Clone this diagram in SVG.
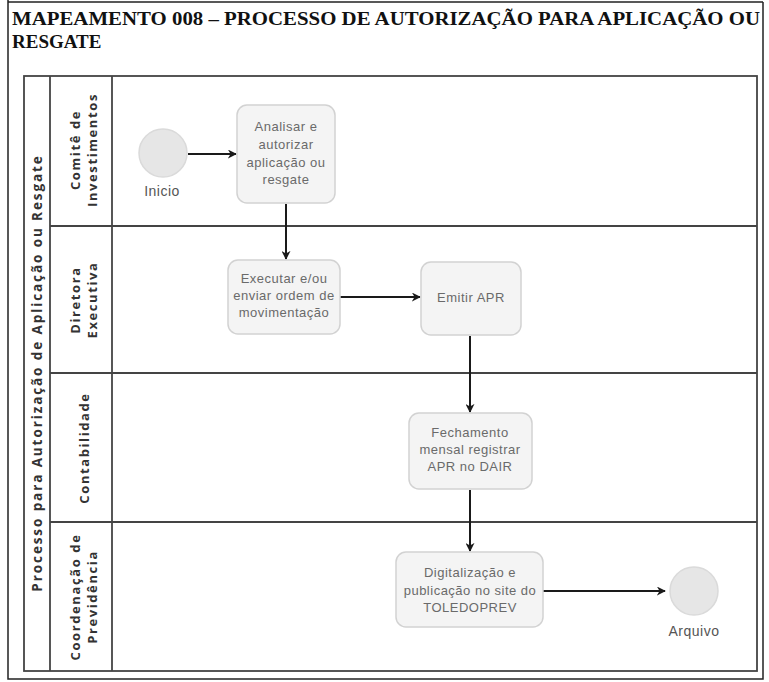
<svg xmlns="http://www.w3.org/2000/svg" width="769" height="682" viewBox="0 0 769 682">
<style>
.title{font-family:"Liberation Serif",serif;font-weight:bold;font-size:19px;fill:#111}
.pool{fill:#fff;stroke:#444;stroke-width:1.8}
.lane{stroke:#444;stroke-width:1.8;fill:none}
.lbl{font-family:"Open Sans","DejaVu Sans",sans-serif;font-weight:bold;font-size:13px;fill:#333;letter-spacing:1.6px;text-anchor:middle}
.plbl{font-family:"Open Sans","DejaVu Sans",sans-serif;font-weight:bold;font-size:13.5px;fill:#333;letter-spacing:1.9px;text-anchor:middle}
.task{fill:#f4f4f4;stroke:#d2d2d2;stroke-width:1.5}
.ev{fill:#e6e6e6;stroke:#dadada;stroke-width:1.5}
.t{font-family:"Liberation Sans","Arial",sans-serif;font-size:13px;fill:#6a6a6a;text-anchor:middle;letter-spacing:0.5px}
.el{font-family:"Liberation Sans","Arial",sans-serif;font-size:14px;fill:#555;text-anchor:middle;letter-spacing:0.5px}
.cn{stroke:#1a1a1a;stroke-width:2;fill:none;marker-end:url(#ah)}
</style>
<defs>
<marker id="ah" viewBox="0 0 10 10" refX="9" refY="5" markerWidth="9" markerHeight="9" markerUnits="userSpaceOnUse" orient="auto">
<path d="M0,0 L10,5 L0,10 L3,5 z" fill="#1a1a1a"/>
</marker>
</defs>
<rect x="0" y="0" width="769" height="682" fill="#fff"/>
<path d="M8,2 L763,2 M8,0 L8,679 L763,679 L763,2" stroke="#222" stroke-width="1.5" fill="none"/>
<text class="title" x="12" y="25" textLength="748" lengthAdjust="spacingAndGlyphs">MAPEAMENTO 008 – PROCESSO DE AUTORIZAÇÃO PARA APLICAÇÃO OU</text>
<text class="title" x="12" y="48">RESGATE</text>

<g id="pool">
<rect class="pool" x="24" y="76" width="733" height="595"/>
<line class="lane" x1="50" y1="76" x2="50" y2="671"/>
<line class="lane" x1="112" y1="76" x2="112" y2="671"/>
<text class="plbl" transform="translate(42,373) rotate(-90)">Processo para Autorização de Aplicação ou Resgate</text>
</g>
<g id="lane-comite">
<text class="lbl" transform="translate(80,150) rotate(-90)">Comitê de</text>
<text class="lbl" transform="translate(97,150) rotate(-90)">Investimentos</text>
</g>
<g id="lane-diretora">
<line class="lane" x1="50" y1="226" x2="757" y2="226"/>
<text class="lbl" transform="translate(80,300) rotate(-90)">Diretora</text>
<text class="lbl" transform="translate(97,300) rotate(-90)">Executiva</text>
</g>
<g id="lane-contabilidade">
<line class="lane" x1="50" y1="373" x2="757" y2="373"/>
<text class="lbl" transform="translate(89,448) rotate(-90)">Contabilidade</text>
</g>
<g id="lane-coordenacao">
<line class="lane" x1="50" y1="522" x2="757" y2="522"/>
<text class="lbl" transform="translate(80,597) rotate(-90)">Coordenação de</text>
<text class="lbl" transform="translate(97,597) rotate(-90)">Previdência</text>
</g>

<g id="connectors">
<line class="cn" x1="188" y1="154" x2="236" y2="154"/>
<line class="cn" x1="286" y1="204" x2="286" y2="259"/>
<line class="cn" x1="340" y1="297" x2="420" y2="297"/>
<line class="cn" x1="470" y1="336" x2="470" y2="412"/>
<line class="cn" x1="470" y1="490" x2="470" y2="551"/>
<line class="cn" x1="543" y1="591" x2="665" y2="591"/>
</g>

<g id="inicio">
<circle class="ev" cx="163" cy="153" r="24"/>
<text class="el" x="162" y="196">Inicio</text>
</g>
<g id="analisar">
<rect class="task" x="237" y="105" width="98" height="98" rx="10"/>
<text class="t" x="286" y="131">Analisar e</text>
<text class="t" x="286" y="149">autorizar</text>
<text class="t" x="286" y="167">aplicação ou</text>
<text class="t" x="286" y="184">resgate</text>
</g>
<g id="executar">
<rect class="task" x="228" y="260" width="112" height="74" rx="10"/>
<text class="t" x="284" y="283">Executar e/ou</text>
<text class="t" x="284" y="300">enviar ordem de</text>
<text class="t" x="284" y="317">movimentação</text>
</g>
<g id="emitir">
<rect class="task" x="421" y="262" width="100" height="73" rx="10"/>
<text class="t" x="471" y="302">Emitir APR</text>
</g>
<g id="fechamento">
<rect class="task" x="409" y="413" width="123" height="76" rx="10"/>
<text class="t" x="470" y="437">Fechamento</text>
<text class="t" x="470" y="454">mensal registrar</text>
<text class="t" x="470" y="471">APR no DAIR</text>
</g>
<g id="digitalizacao">
<rect class="task" x="396" y="552" width="147" height="75" rx="10"/>
<text class="t" x="470" y="577">Digitalização e</text>
<text class="t" x="470" y="595">publicação no site do</text>
<text class="t" x="470" y="612">TOLEDOPREV</text>
</g>
<g id="arquivo">
<circle class="ev" cx="694" cy="591" r="24"/>
<text class="el" x="694" y="636">Arquivo</text>
</g>
</svg>
